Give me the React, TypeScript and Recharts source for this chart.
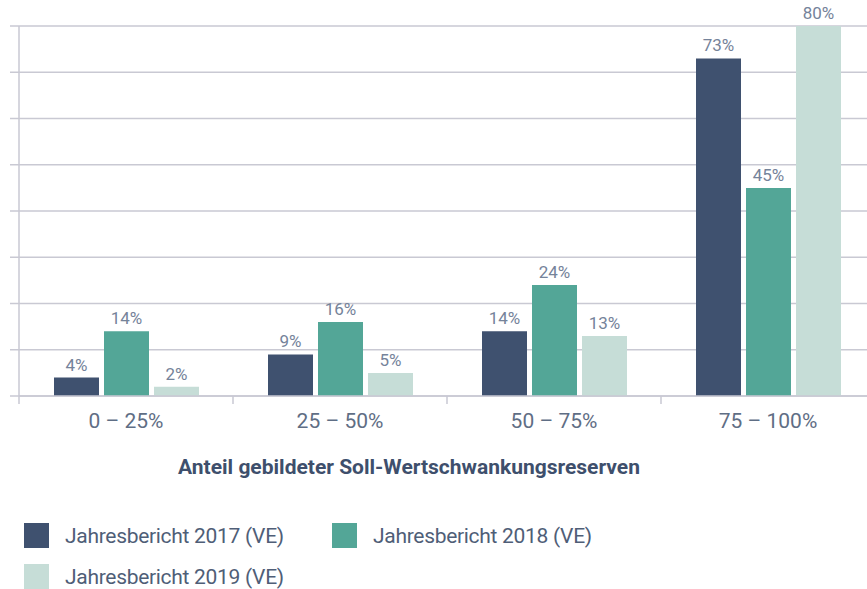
import React from 'react';
import { BarChart, Bar, XAxis, YAxis, CartesianGrid, LabelList } from 'recharts';

const categories = ['0 – 25%', '25 – 50%', '50 – 75%', '75 – 100%'];
const values2017 = [4, 9, 14, 73];
const values2018 = [14, 16, 24, 45];
const values2019 = [2, 5, 13, 80];
const yTicks = [0, 10, 20, 30, 40, 50, 60, 70, 80];

const SERIES = [
  { key: 'y2017', name: 'Jahresbericht 2017 (VE)', color: '#3f516f' },
  { key: 'y2018', name: 'Jahresbericht 2018 (VE)', color: '#53a697' },
  { key: 'y2019', name: 'Jahresbericht 2019 (VE)', color: '#c6ddd7' },
];

const data = categories.map((cat, i) => ({
  cat,
  y2017: values2017[i],
  y2018: values2018[i],
  y2019: values2019[i],
}));

const FONT = 'Roboto, "Noto Sans", sans-serif';
const GRID = '#c9c9d3';

// label in the band centre, small tick mark on the band's left edge
const CategoryTick = ({ x, y, payload }: any) => {
  const half = payload && payload.offset ? payload.offset : 107;
  return (
    <g>
      <line x1={x - half} x2={x - half} y1={y - 8} y2={y} stroke={GRID} strokeWidth={1.5} />
      <text x={x} y={y + 24} textAnchor="middle" fill="#5f6e85" fontSize={21} fontFamily={FONT}>
        {payload.value}
      </text>
    </g>
  );
};

const NoTick = () => <g />;

export default function App() {
  return (
    <div
      style={{
        position: 'fixed',
        left: 0,
        top: 0,
        width: 867,
        height: 589,
        overflow: 'hidden',
        background: '#fff',
        fontFamily: FONT,
      }}
    >
      <BarChart
        width={880}
        height={450}
        data={data}
        margin={{ top: 26, right: 5, bottom: 14, left: 0 }}
        barSize={45}
        barGap={5}
      >
        <CartesianGrid vertical={false} stroke={GRID} strokeWidth={1.5} />
        <XAxis
          dataKey="cat"
          stroke={GRID}
          strokeWidth={1.5}
          tickLine={{ stroke: 'none' }}
          tickSize={8}
          tickMargin={0}
          height={40}
          interval={0}
          tick={<CategoryTick />}
        />
        <YAxis
          domain={[0, 80]}
          ticks={yTicks}
          tick={<NoTick />}
          tickSize={9}
          width={19}
          stroke={GRID}
          strokeWidth={1.5}
        />
        {SERIES.map((s) => (
          <Bar key={s.key} dataKey={s.key} name={s.name} fill={s.color} isAnimationActive={false}>
            <LabelList
              dataKey={s.key}
              position="top"
              offset={7}
              formatter={(v: any) => `${v}%`}
              fill="#75839a"
              fontSize={17}
              fontFamily={FONT}
            />
          </Bar>
        ))}
      </BarChart>

      <div
        style={{
          position: 'absolute',
          left: 0,
          top: 455,
          width: 818,
          textAlign: 'center',
          fontSize: 21,
          fontWeight: 700,
          color: '#3e4f6c',
        }}
      >
        Anteil gebildeter Soll-Wertschwankungsreserven
      </div>

      <div style={{ position: 'absolute', left: 24, top: 523, width: 700 }}>
        {[[SERIES[0], SERIES[1]], [SERIES[2]]].map((row, r) => (
          <div key={r} style={{ display: 'flex', height: 25, marginBottom: 16 }}>
            {row.map((s) => (
              <div key={s.key} style={{ display: 'flex', alignItems: 'center', width: 308 }}>
                <span style={{ width: 25, height: 25, background: s.color, display: 'inline-block', flexShrink: 0 }} />
                <span style={{ marginLeft: 16, fontSize: 21, letterSpacing: -0.3, color: '#4f5e77', whiteSpace: 'nowrap' }}>
                  {s.name}
                </span>
              </div>
            ))}
          </div>
        ))}
      </div>
    </div>
  );
}
